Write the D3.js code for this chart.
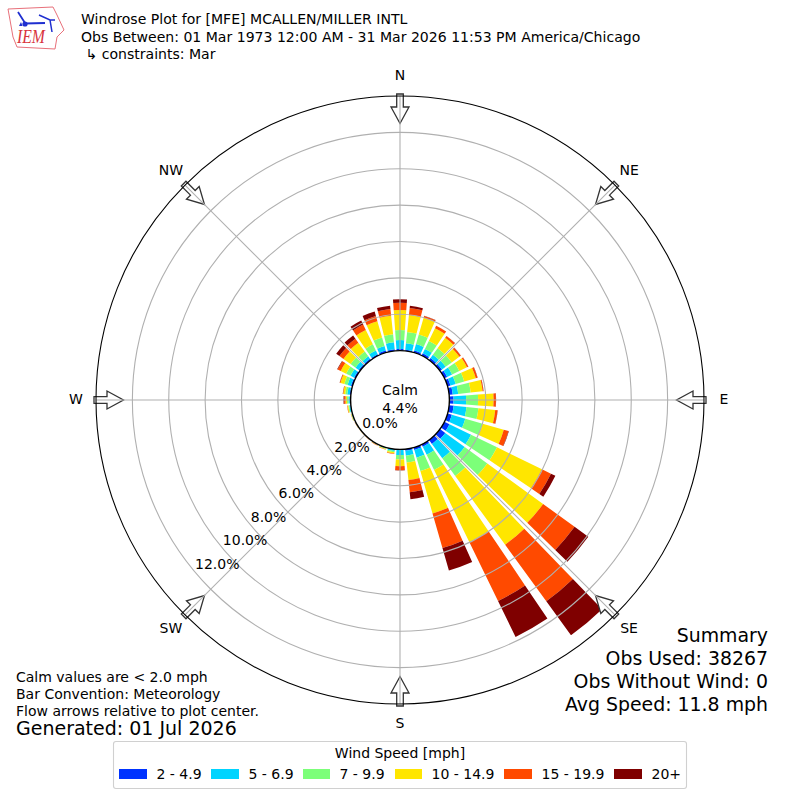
<!DOCTYPE html>
<html><head><meta charset="utf-8">
<script src="https://cdn.jsdelivr.net/npm/d3@7"></script>
<style>html,body{margin:0;padding:0;background:#fff}svg{display:block}text{font-family:"DejaVu Sans";fill:#000}</style>
</head><body><svg id="c" width="800" height="800"></svg>
<script>
const bearings = d3.range(0,360,10);
const speedLabels = ["2 - 4.9","5 - 6.9","7 - 9.9","10 - 14.9","15 - 19.9","20+"];
const speedColors = ["#0033ff","#00d4ff","#7cff79","#ffe600","#ff4a00","#7f0000"];
const blue = [.09,.06,.12,.14,.14,.14,.17,.17,.20,.23,.25,.25,.31,.36,.27,.14,.14,.09,.02,.02,.02,.01,.01,.01,.01,.02,.03,.05,.06,.09,.09,.09,.09,.09,.12,.09];
const cyan = [.49,.36,.36,.27,.22,.25,.30,.30,.30,.69,.71,.77,1.32,1.32,.97,.49,.44,.27,.29,.08,.03,.02,.01,.01,.02,.03,.06,.07,.14,.19,.22,.22,.16,.22,.25,.38];
const green = [.55,.63,.55,.49,.44,.41,.44,.49,.69,.66,.66,.99,1.59,1.54,1.21,.93,.77,.38,.24,.07,.03,.02,.01,.01,.01,.02,.05,.08,.11,.19,.27,.33,.33,.38,.49,.45];
const yellow = [1.10,.93,.96,.77,.71,.52,.47,.66,.66,.85,.93,1.21,2.75,3.79,4.67,4.43,2.42,.97,.37,.07,.03,.02,.01,.01,.01,.02,.05,.08,.11,.22,.33,.49,.60,.88,.93,1.02];
const orange = [.40,.39,.10,.15,.12,.10,.08,.10,.05,.13,.13,.27,.55,2.14,3.85,3.59,1.98,.68,.22,.03,.02,.01,.01,.01,.01,.01,.02,.08,.02,.04,.19,.27,.27,.33,.30,.38];
const dark = [.20,.12,.01,.01,.01,.01,.01,.01,.01,.01,.01,.02,.27,.93,2.31,2.20,1.29,.38,.02,0,0,0,0,0,0,0,0,.03,.01,.01,.03,.22,.22,.25,.25,.18];
const series = [blue,cyan,green,yellow,orange,dark];
const rTicks = [0,2,4,6,8,10,12];
const compass = [["N",0],["NE",45],["E",90],["SE",135],["S",180],["SW",225],["W",270],["NW",315]];
const titleLines = ["Windrose Plot for [MFE] MCALLEN/MILLER INTL","Obs Between: 01 Mar 1973 12:00 AM - 31 Mar 2026 11:53 PM America/Chicago"," ↳ constraints: Mar"];
const notes = ["Calm values are < 2.0 mph","Bar Convention: Meteorology","Flow arrows relative to plot center."];
const generated = "Generated: 01 Jul 2026";
const summary = ["Summary","Obs Used: 38267","Obs Without Wind: 0","Avg Speed: 11.8 mph"];
const calm = ["Calm","4.4%"];

const svg = d3.select("#c");
const cx=400, cy=400;
const r = d3.scaleLinear().domain([0,14]).range([49.4,304]);
const rad = d=>d*Math.PI/180;
const binWidth = 8;
const g = svg.append("g").attr("transform",`translate(${cx},${cy})`);

const rows = bearings.map((b,i)=>{const o={bearing:b};series.forEach((s,k)=>o[k]=s[i]);return o;});
const stack = d3.stack().keys(series.map((_,k)=>k))(rows);
const arc = d3.arc();
stack.forEach((layer,k)=>{
  g.append("g").selectAll("path").data(layer).join("path")
    .attr("fill",speedColors[k])
    .attr("d",d=>arc({innerRadius:r(d[0]),outerRadius:r(d[1]),
      startAngle:rad(d.data.bearing-binWidth/2),endAngle:rad(d.data.bearing+binWidth/2)}));
});

const arrowPath = "M-3.3,0 L3.3,0 L3.3,13 L9,13 L0,29.5 L-9,13 L-3.3,13 Z";
g.append("g").selectAll("path").data(compass).join("path")
  .attr("d",arrowPath)
  .attr("transform",d=>`rotate(${d[1]}) translate(0,${-r.range()[1]-2})`)
  .attr("fill","#fff").attr("stroke","#333").attr("stroke-width",1.3);

g.append("g").selectAll("circle").data(rTicks.slice(1)).join("circle")
  .attr("r",d=>r(d)).attr("fill","none").attr("stroke","#b0b0b0").attr("stroke-width",1.1);
g.append("g").selectAll("line").data(compass).join("line")
  .attr("x1",d=>r(0)*Math.sin(rad(d[1]))).attr("y1",d=>-r(0)*Math.cos(rad(d[1])))
  .attr("x2",d=>r(14)*Math.sin(rad(d[1]))).attr("y2",d=>-r(14)*Math.cos(rad(d[1])))
  .attr("stroke","#b0b0b0").attr("stroke-width",1.1);

g.append("circle").attr("r",r(14)).attr("fill","none").attr("stroke","#000").attr("stroke-width",1.1);
g.append("circle").attr("r",r(0)).attr("fill","#fff").attr("stroke","#000").attr("stroke-width",1.4);

g.append("g").selectAll("text").data(compass).join("text")
  .attr("x",d=>324*Math.sin(rad(d[1]))).attr("y",d=>-324*Math.cos(rad(d[1])))
  .attr("text-anchor","middle").attr("dy","0.28em").attr("font-size",14).text(d=>d[0]);

const lab = rad(230);
g.append("g").selectAll("text").data(rTicks).join("text")
  .attr("x",d=>r(d)*Math.sin(lab)).attr("y",d=>-r(d)*Math.cos(lab))
  .attr("dy",-3.5).attr("font-size",14).text(d=>d.toFixed(1)+"%");

g.append("g").selectAll("text").data(calm).join("text")
  .attr("x",0).attr("y",(d,i)=>-10+i*17.5).attr("dy","0.36em").attr("text-anchor","middle")
  .attr("font-size",14).text(d=>d);

svg.append("g").selectAll("text").data(titleLines).join("text")
  .attr("x",81).attr("y",(d,i)=>24+i*17.5).attr("font-size",14.05)
  .style("white-space","pre").text(d=>d);

svg.append("g").selectAll("text").data(notes).join("text")
  .attr("x",16).attr("y",(d,i)=>681.5+i*17).attr("font-size",14).text(d=>d);
svg.append("text").attr("x",16).attr("y",735).attr("font-size",19).text(generated);

svg.append("g").selectAll("text").data(summary).join("text")
  .attr("x",768).attr("y",(d,i)=>642+i*23).attr("text-anchor","end").attr("font-size",18.9).text(d=>d);

svg.append("rect").attr("x",113.5).attr("y",741.5).attr("width",573).attr("height",47).attr("rx",2.5)
  .attr("fill","#fff").attr("stroke","#d0d0d0").attr("stroke-width",1.1);
svg.append("text").attr("x",400).attr("y",758).attr("text-anchor","middle").attr("font-size",14).text("Wind Speed [mph]");
const swatchX = d3.scaleOrdinal().domain(speedLabels).range([119,211,303,395,504,614]);
const swatchW = d3.scaleOrdinal().domain(speedLabels).range([28,28,27,27,28,28]);
const leg = svg.append("g").selectAll("g").data(speedLabels).join("g");
leg.append("rect").attr("x",d=>swatchX(d)).attr("y",769).attr("width",d=>swatchW(d)).attr("height",10)
  .attr("fill",(d,i)=>speedColors[i]);
leg.append("text").attr("x",d=>swatchX(d)+swatchW(d)+9.5).attr("y",779).attr("font-size",14).text(d=>d);

const logo = svg.append("g");
logo.append("path").attr("d","M8,9 L53,7 L57,15 L64,30 L57,37 L55,49 L17,47 L13,37 L10,20 Z")
  .attr("fill","#fff").attr("stroke","#e8707a").attr("stroke-width",1);
const blueInk="#1f2fd0";
logo.append("path").attr("d","M25,23.5 L45,23 M25,23 L18,12").attr("fill","none").attr("stroke",blueInk).attr("stroke-width",1.8);
logo.append("path").attr("d","M39,15 L50,20 L55,20 M50,20 L52,32").attr("fill","none").attr("stroke",blueInk).attr("stroke-width",1.5);
logo.append("circle").attr("cx",25).attr("cy",24).attr("r",2.6).attr("fill",blueInk);
logo.append("path").attr("d","M19,26 l3.5,0 l-1.5,-4 Z").attr("fill",blueInk);
logo.append("text").attr("x",17).attr("y",43).attr("textLength",28).attr("lengthAdjust","spacingAndGlyphs")
  .style("font-family","Liberation Serif").style("font-style","italic")
  .attr("font-size",18).style("fill","#d8323c").text("IEM");
</script></body></html>
